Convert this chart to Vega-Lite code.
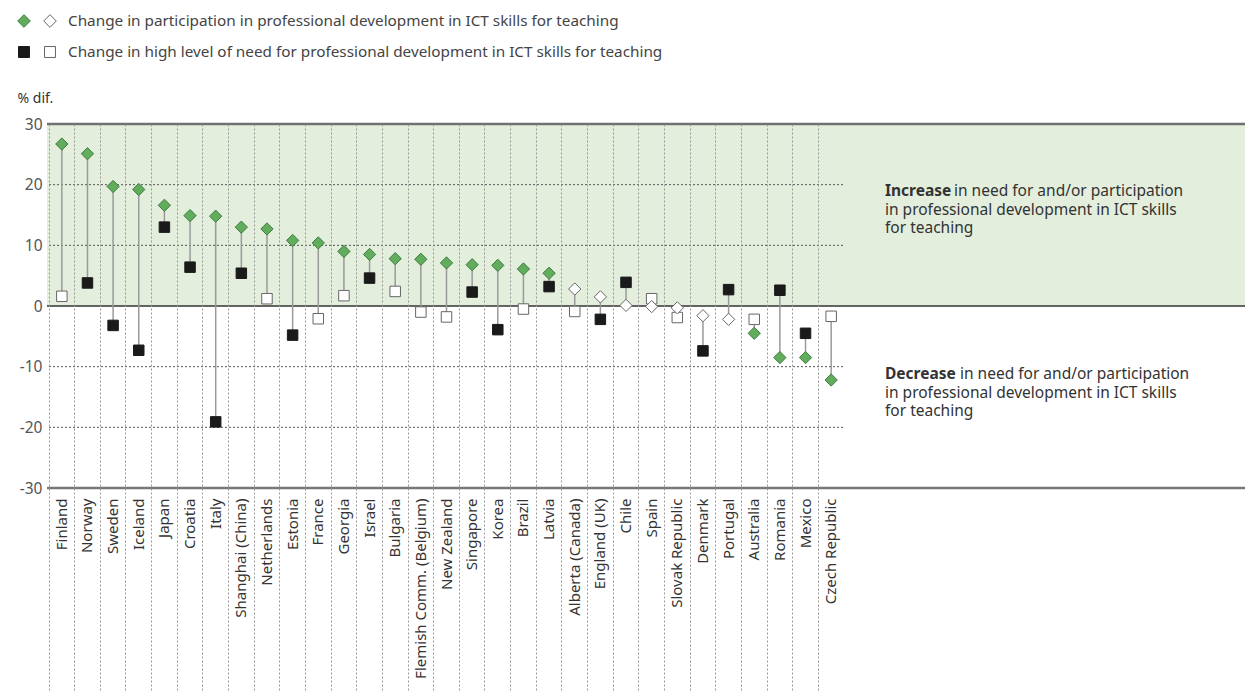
{
  "$schema": "https://vega.github.io/schema/vega-lite/v6.json",
  "padding": {"left": 15, "top": 0, "right": 0, "bottom": 0},
  "background": "white",
  "spacing": 30,
  "config": {"view": {"stroke": null}, "font": "Noto Sans"},
  "datasets": {
    "countries": [
      {"country": "Finland", "participation": 26.7, "part_sig": true, "need": 1.6, "need_sig": false},
      {"country": "Norway", "participation": 25.1, "part_sig": true, "need": 3.8, "need_sig": true},
      {"country": "Sweden", "participation": 19.7, "part_sig": true, "need": -3.2, "need_sig": true},
      {"country": "Iceland", "participation": 19.2, "part_sig": true, "need": -7.3, "need_sig": true},
      {"country": "Japan", "participation": 16.6, "part_sig": true, "need": 13.0, "need_sig": true},
      {"country": "Croatia", "participation": 14.9, "part_sig": true, "need": 6.4, "need_sig": true},
      {"country": "Italy", "participation": 14.8, "part_sig": true, "need": -19.1, "need_sig": true},
      {"country": "Shanghai (China)", "participation": 13.0, "part_sig": true, "need": 5.4, "need_sig": true},
      {"country": "Netherlands", "participation": 12.7, "part_sig": true, "need": 1.2, "need_sig": false},
      {"country": "Estonia", "participation": 10.8, "part_sig": true, "need": -4.8, "need_sig": true},
      {"country": "France", "participation": 10.4, "part_sig": true, "need": -2.1, "need_sig": false},
      {"country": "Georgia", "participation": 9.0, "part_sig": true, "need": 1.7, "need_sig": false},
      {"country": "Israel", "participation": 8.5, "part_sig": true, "need": 4.6, "need_sig": true},
      {"country": "Bulgaria", "participation": 7.8, "part_sig": true, "need": 2.4, "need_sig": false},
      {"country": "Flemish Comm. (Belgium)", "participation": 7.7, "part_sig": true, "need": -1.0, "need_sig": false},
      {"country": "New Zealand", "participation": 7.1, "part_sig": true, "need": -1.8, "need_sig": false},
      {"country": "Singapore", "participation": 6.8, "part_sig": true, "need": 2.3, "need_sig": true},
      {"country": "Korea", "participation": 6.7, "part_sig": true, "need": -3.9, "need_sig": true},
      {"country": "Brazil", "participation": 6.1, "part_sig": true, "need": -0.5, "need_sig": false},
      {"country": "Latvia", "participation": 5.4, "part_sig": true, "need": 3.2, "need_sig": true},
      {"country": "Alberta (Canada)", "participation": 2.8, "part_sig": false, "need": -0.9, "need_sig": false},
      {"country": "England (UK)", "participation": 1.5, "part_sig": false, "need": -2.2, "need_sig": true},
      {"country": "Chile", "participation": 0.1, "part_sig": false, "need": 3.9, "need_sig": true},
      {"country": "Spain", "participation": -0.1, "part_sig": false, "need": 1.2, "need_sig": false},
      {"country": "Slovak Republic", "participation": -0.3, "part_sig": false, "need": -1.9, "need_sig": false},
      {"country": "Denmark", "participation": -1.6, "part_sig": false, "need": -7.4, "need_sig": true},
      {"country": "Portugal", "participation": -2.2, "part_sig": false, "need": 2.7, "need_sig": true},
      {"country": "Australia", "participation": -4.5, "part_sig": true, "need": -2.2, "need_sig": false},
      {"country": "Romania", "participation": -8.5, "part_sig": true, "need": 2.6, "need_sig": true},
      {"country": "Mexico", "participation": -8.5, "part_sig": true, "need": -4.5, "need_sig": true},
      {"country": "Czech Republic", "participation": -12.2, "part_sig": true, "need": -1.7, "need_sig": false}
    ],
    "legend": [
      {"series": "participation", "status": "significant"},
      {"series": "participation", "status": "not significant"},
      {"series": "need", "status": "significant"},
      {"series": "need", "status": "not significant"}
    ],
    "legendLabels": [
      {"series": "participation", "label": "Change in participation in professional development in ICT skills for teaching"},
      {"series": "need", "label": "Change in high level of need for professional development in ICT skills for teaching"}
    ]
  },
  "vconcat": [
    {
      "width": 700,
      "height": 60,
      "layer": [
        {
          "data": {"name": "legend"},
          "mark": {"type": "point", "filled": true, "strokeWidth": 1, "opacity": 1},
          "encoding": {
            "x": {"field": "status", "type": "nominal", "scale": {"type": "point", "domain": ["significant", "not significant"], "range": [-23, 3], "padding": 0}, "axis": null},
            "y": {"field": "series", "type": "nominal", "scale": {"type": "point", "domain": ["participation", "need"], "range": [21, 52], "padding": 0}, "axis": null},
            "shape": {"field": "series", "type": "nominal", "scale": {"domain": ["participation", "need"], "range": ["diamond", "square"]}, "legend": null},
            "size": {"condition": {"test": "datum.series == 'participation'", "value": 160}, "value": 120},
            "fill": {"condition": [{"test": "datum.status == 'not significant'", "value": "white"}, {"test": "datum.series == 'participation'", "value": "#62ac5e"}], "value": "#1a1a1a"},
            "stroke": {"condition": [{"test": "datum.status == 'not significant'", "value": "#666"}, {"test": "datum.series == 'participation'", "value": "#3d7d3d"}], "value": "#1a1a1a"}
          }
        },
        {
          "data": {"name": "legendLabels"},
          "mark": {"type": "text", "align": "left", "baseline": "middle", "dx": 18, "fontSize": 15.3, "color": "#444"},
          "encoding": {
            "x": {"datum": "not significant"},
            "y": {"field": "series", "type": "nominal"},
            "text": {"field": "label"}
          }
        }
      ]
    },
    {
      "width": 1200,
      "height": 364,
      "data": {"name": "countries"},
      "layer": [
        {
          "data": {"values": [{"zone": "increase"}]},
          "mark": {"type": "rect", "color": "#e3eedd"},
          "encoding": {
            "y": {"datum": 0, "type": "quantitative", "scale": {"domain": [-30, 30], "nice": false, "zero": false}},
            "y2": {"datum": 30}
          }
        },
        {
          "data": {"values": [{"level": 20}, {"level": 10}, {"level": -10}, {"level": -20}]},
          "mark": {"type": "rule", "color": "#555", "strokeDash": [2, 2], "strokeWidth": 1},
          "encoding": {
            "y": {"field": "level", "type": "quantitative"},
            "x": {"datum": "Finland", "bandPosition": 0},
            "x2": {"datum": "Czech Republic", "bandPosition": 1}
          }
        },
        {
          "data": {"values": [{"line": "top"}]},
          "mark": {"type": "rule", "color": "#707070", "strokeWidth": 2.5},
          "encoding": {"y": {"datum": 30}}
        },
        {
          "data": {"values": [{"line": "zero"}]},
          "mark": {"type": "rule", "color": "#333", "strokeWidth": 1.5},
          "encoding": {"y": {"datum": 0}}
        },
        {
          "data": {"values": [{"line": "bottom"}]},
          "mark": {"type": "rule", "color": "#777", "strokeWidth": 2.5},
          "encoding": {"y": {"datum": -30}}
        },
        {
          "data": {"values": [{"note": "increase"}]},
          "mark": {"type": "text", "align": "left", "baseline": "middle", "dx": 41, "fontSize": 15.5, "fontWeight": "bold", "color": "#333"},
          "encoding": {
            "x": {"datum": "Czech Republic", "bandPosition": 1},
            "y": {"datum": 19.0},
            "text": {"value": "Increase"}
          }
        },
        {
          "data": {"values": [{"note": "increase"}]},
          "mark": {"type": "text", "align": "left", "baseline": "middle", "dx": 110, "fontSize": 15.5, "color": "#333"},
          "encoding": {
            "x": {"datum": "Czech Republic", "bandPosition": 1},
            "y": {"datum": 19.0},
            "text": {"value": "in need for and/or participation"}
          }
        },
        {
          "data": {"values": [{"note": "increase"}]},
          "mark": {"type": "text", "align": "left", "baseline": "top", "dx": 41, "fontSize": 15.5, "lineHeight": 18, "color": "#333"},
          "encoding": {
            "x": {"datum": "Czech Republic", "bandPosition": 1},
            "y": {"datum": 17.05},
            "text": {"value": ["in professional development in ICT skills", "for teaching"]}
          }
        },
        {
          "data": {"values": [{"note": "decrease"}]},
          "mark": {"type": "text", "align": "left", "baseline": "middle", "dx": 41, "fontSize": 15.5, "fontWeight": "bold", "color": "#333"},
          "encoding": {
            "x": {"datum": "Czech Republic", "bandPosition": 1},
            "y": {"datum": -11.2},
            "text": {"value": "Decrease"}
          }
        },
        {
          "data": {"values": [{"note": "decrease"}]},
          "mark": {"type": "text", "align": "left", "baseline": "middle", "dx": 116, "fontSize": 15.5, "color": "#333"},
          "encoding": {
            "x": {"datum": "Czech Republic", "bandPosition": 1},
            "y": {"datum": -11.2},
            "text": {"value": "in need for and/or participation"}
          }
        },
        {
          "data": {"values": [{"note": "decrease"}]},
          "mark": {"type": "text", "align": "left", "baseline": "top", "dx": 41, "fontSize": 15.5, "lineHeight": 18, "color": "#333"},
          "encoding": {
            "x": {"datum": "Czech Republic", "bandPosition": 1},
            "y": {"datum": -13.15},
            "text": {"value": ["in professional development in ICT skills", "for teaching"]}
          }
        },
        {
          "mark": {"type": "rule", "color": "#9a9a9a", "strokeWidth": 1.5},
          "encoding": {
            "x": {
              "field": "country", "type": "nominal", "sort": null,
              "scale": {
                "type": "band", "range": [2, 797], "paddingInner": 0, "paddingOuter": 0,
                "domain": ["Finland", "Norway", "Sweden", "Iceland", "Japan", "Croatia", "Italy", "Shanghai (China)", "Netherlands", "Estonia", "France", "Georgia", "Israel", "Bulgaria", "Flemish Comm. (Belgium)", "New Zealand", "Singapore", "Korea", "Brazil", "Latvia", "Alberta (Canada)", "England (UK)", "Chile", "Spain", "Slovak Republic", "Denmark", "Portugal", "Australia", "Romania", "Mexico", "Czech Republic"]
              },
              "axis": {
                "title": null, "labelAngle": -90, "labelFontSize": 15, "labelColor": "#333",
                "labelPadding": -194, "labelLimit": 300, "domain": false, "ticks": true, "tickSize": 204,
                "tickColor": "#999", "tickDash": [2, 2], "tickWidth": 1,
                "grid": true, "gridColor": "#999", "gridDash": [2, 2], "gridWidth": 1,
                "bandPosition": 0, "tickExtra": false, "zindex": 1
              }
            },
            "y": {
              "field": "participation", "type": "quantitative",
              "axis": {
                "title": "% dif.", "values": [-30, -20, -10, 0, 10, 20, 30], "grid": false,
                "labelExpr": "'' + datum.value",
                "domain": false, "ticks": false, "labelPadding": 5, "labelFontSize": 15.5,
                "labelColor": "#555", "titleAngle": 0, "titleAlign": "left", "titleBaseline": "middle",
                "titleX": -30, "titleY": -26, "titleFontWeight": "normal", "titleFontSize": 14,
                "titleColor": "#333"
              }
            },
            "y2": {"field": "need"}
          }
        },
        {
          "mark": {"type": "point", "shape": "square", "filled": true, "size": 110, "strokeWidth": 1, "opacity": 1},
          "encoding": {
            "x": {"field": "country", "type": "nominal", "sort": null},
            "y": {"field": "need", "type": "quantitative"},
            "fill": {"condition": {"test": "datum.need_sig", "value": "#1a1a1a"}, "value": "white"},
            "stroke": {"condition": {"test": "datum.need_sig", "value": "#1a1a1a"}, "value": "#666"}
          }
        },
        {
          "mark": {"type": "point", "shape": "diamond", "filled": true, "size": 150, "strokeWidth": 1, "opacity": 1},
          "encoding": {
            "x": {"field": "country", "type": "nominal", "sort": null},
            "y": {"field": "participation", "type": "quantitative"},
            "fill": {"condition": {"test": "datum.part_sig", "value": "#62ac5e"}, "value": "white"},
            "stroke": {"condition": {"test": "datum.part_sig", "value": "#3d7d3d"}, "value": "#666"}
          }
        }
      ]
    }
  ]
}
